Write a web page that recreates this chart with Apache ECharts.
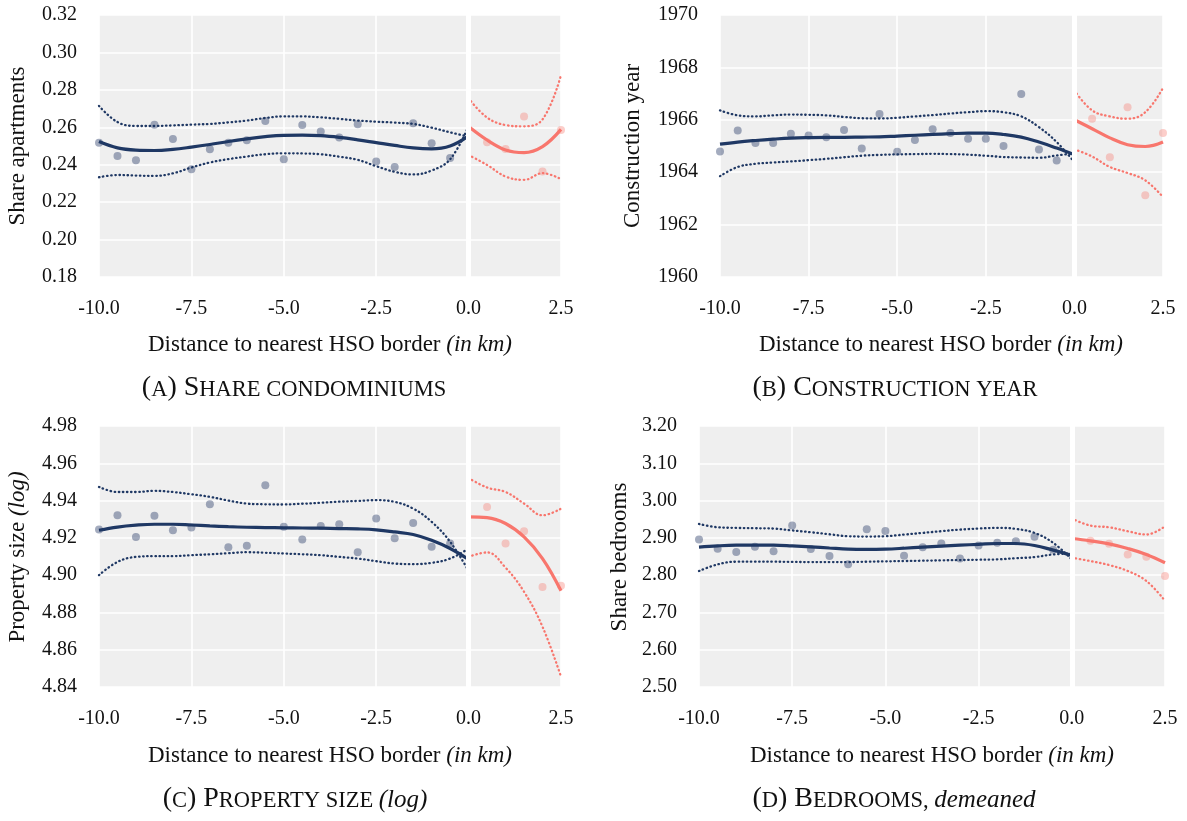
<!DOCTYPE html>
<html>
<head>
<meta charset="utf-8">
<script src="https://cdn.jsdelivr.net/npm/echarts@6/dist/echarts.min.js"></script>
<style>
html,body{margin:0;padding:0;background:#fff;}
#c{width:1187px;height:821px;}
</style>
</head>
<body>
<div id="c"></div>
<script>
// ---------- DATA ----------
const xPtsL = [-10,-9.5,-9,-8.5,-8,-7.5,-7,-6.5,-6,-5.5,-5,-4.5,-4,-3.5,-3,-2.5,-2,-1.5,-1,-0.5];
const xPtsR = [0.5,1,1.5,2,2.5];
const xFitL = [-10,-9.5,-9,-8.5,-8,-7.5,-7,-6.5,-6,-5.5,-5,-4.5,-4,-3.5,-3,-2.5,-2,-1.5,-1,-0.5,0];
const xFitR = [0,0.5,1,1.5,2,2.5];
const xTicks = [-10,-7.5,-5,-2.5,0,2.5];

// Panel A: share condominiums
const aPtsL = [0.2518,0.2447,0.2424,0.2614,0.2538,0.2376,0.2483,0.2518,0.2531,0.2634,0.2429,0.2612,0.2577,0.2545,0.2616,0.2417,0.2388,0.2621,0.2515,0.2436];
const aPtsR = [0.2520,0.2484,0.2657,0.2364,0.2586];
const aFitL = [0.2524,0.2490,0.2478,0.2476,0.2482,0.2494,0.2508,0.2524,0.2538,0.2550,0.2557,0.2558,0.2555,0.2546,0.2533,0.2518,0.2503,0.2490,0.2485,0.2500,0.2554];
const aUpL  = [0.2714,0.2628,0.2607,0.2607,0.2610,0.2614,0.2618,0.2626,0.2636,0.2650,0.2658,0.2658,0.2653,0.2645,0.2636,0.2630,0.2625,0.2618,0.2598,0.2573,0.2550];
const aLoL  = [0.2333,0.2345,0.2342,0.2340,0.2354,0.2385,0.2412,0.2430,0.2444,0.2456,0.2461,0.2460,0.2456,0.2443,0.2426,0.2392,0.2362,0.2348,0.2369,0.2429,0.2607];
const aFitR = [0.2604,0.2532,0.2479,0.2465,0.2497,0.2589];
const aUpR  = [0.2755,0.2652,0.2612,0.2605,0.2642,0.2879];
const aLoR  = [0.2452,0.2399,0.2337,0.2319,0.2355,0.2323];

// Panel B: construction year
const bPtsL = [1964.79,1965.59,1965.11,1965.11,1965.47,1965.40,1965.33,1965.61,1964.90,1966.22,1964.78,1965.23,1965.64,1965.50,1965.28,1965.28,1965.00,1966.98,1964.87,1964.45];
const bPtsR = [1966.04,1964.57,1966.48,1963.12,1965.50];
const bFitL = [1965.07,1965.15,1965.21,1965.26,1965.30,1965.32,1965.33,1965.33,1965.34,1965.35,1965.38,1965.41,1965.44,1965.47,1965.49,1965.49,1965.44,1965.34,1965.15,1964.92,1964.67];
const bUpL  = [1966.36,1966.17,1966.13,1966.17,1966.20,1966.19,1966.17,1966.11,1966.06,1966.05,1966.08,1966.13,1966.18,1966.24,1966.29,1966.33,1966.29,1966.13,1965.72,1965.15,1964.38];
const bLoL  = [1963.85,1964.20,1964.32,1964.37,1964.41,1964.46,1964.51,1964.57,1964.63,1964.66,1964.68,1964.69,1964.70,1964.69,1964.67,1964.63,1964.58,1964.56,1964.55,1964.64,1964.72];
const bFitR = [1966.00,1965.66,1965.31,1965.05,1964.98,1965.15];
const bUpR  = [1967.12,1966.36,1966.13,1966.04,1966.29,1967.22];
const bLoR  = [1964.87,1964.60,1964.20,1963.97,1963.69,1963.05];

// Panel C: property size (log)
const cPtsL = [4.9245,4.9321,4.9205,4.9318,4.9241,4.9255,4.9380,4.9150,4.9157,4.9482,4.9259,4.9191,4.9263,4.9273,4.9123,4.9304,4.9198,4.9280,4.9152,4.9170];
const cPtsR = [4.9366,4.9170,4.9236,4.8937,4.8943];
const cFitL = [4.9241,4.9258,4.9268,4.9273,4.9273,4.9269,4.9264,4.9260,4.9257,4.9255,4.9254,4.9253,4.9252,4.9250,4.9248,4.9243,4.9232,4.9218,4.9187,4.9143,4.9084];
const cUpL  = [4.9473,4.9446,4.9446,4.9452,4.9446,4.9434,4.9420,4.9400,4.9384,4.9380,4.9379,4.9383,4.9388,4.9394,4.9398,4.9402,4.9393,4.9357,4.9286,4.9179,4.9023];
const cLoL  = [4.9000,4.9071,4.9098,4.9102,4.9102,4.9107,4.9112,4.9118,4.9123,4.9120,4.9116,4.9112,4.9107,4.9098,4.9089,4.9075,4.9062,4.9059,4.9066,4.9089,4.9143];
const cFitR = [4.9313,4.9309,4.9277,4.9205,4.9089,4.8916];
const cUpR  = [4.9521,4.9470,4.9446,4.9384,4.9321,4.9357];
const cLoR  = [4.9098,4.9122,4.9040,4.8911,4.8723,4.8455];

// Panel D: bedrooms, demeaned
const dPtsL = [2.8956,2.8707,2.8618,2.8760,2.8644,2.9329,2.8698,2.8511,2.8289,2.9231,2.9187,2.8520,2.8751,2.8849,2.8449,2.8796,2.8867,2.8911,2.9027,2.8680];
const dPtsR = [2.8920,2.8840,2.8556,2.8493,2.7978];
const dFitL = [2.8751,2.8785,2.8804,2.8806,2.8804,2.8785,2.8760,2.8728,2.8698,2.8690,2.8698,2.8722,2.8751,2.8780,2.8804,2.8827,2.8849,2.8849,2.8796,2.8671,2.8529];
const dUpL  = [2.9373,2.9284,2.9267,2.9258,2.9249,2.9200,2.9151,2.9097,2.9044,2.9035,2.9044,2.9088,2.9133,2.9180,2.9222,2.9250,2.9267,2.9240,2.9133,2.8867,2.8420];
const dLoL  = [2.8111,2.8289,2.8360,2.8360,2.8360,2.8355,2.8351,2.8351,2.8351,2.8360,2.8369,2.8378,2.8387,2.8396,2.8404,2.8413,2.8422,2.8453,2.8484,2.8556,2.8580];
const dFitR = [2.8982,2.8920,2.8840,2.8716,2.8556,2.8333];
const dUpR  = [2.9516,2.9329,2.9284,2.9178,2.9089,2.9311];
const dLoR  = [2.8467,2.8378,2.8271,2.8111,2.7844,2.7311];

const yRanges = [
  {min:0.18, max:0.32, interval:0.02, dec:2},
  {min:1960, max:1970, interval:2, dec:0},
  {min:4.84, max:4.98, interval:0.02, dec:2},
  {min:2.5, max:3.2, interval:0.1, dec:2}
];

// ---------- LAYOUT ----------
const W = 1187, H = 821;
const grids = [
  {left:99, top:15, right:W-561, bottom:H-277},
  {left:720, top:15, right:W-1163, bottom:H-277},
  {left:99, top:426, right:W-561, bottom:H-687},
  {left:699, top:426, right:W-1165, bottom:H-687}
];
const FONT = 'Liberation Serif';
const NAVY = '#1f3864';
const RED = '#f8766d';

const panels = [
  [aPtsL,aPtsR,aFitL,aUpL,aLoL,aFitR,aUpR,aLoR],
  [bPtsL,bPtsR,bFitL,bUpL,bLoL,bFitR,bUpR,bLoR],
  [cPtsL,cPtsR,cFitL,cUpL,cLoL,cFitR,cUpR,cLoR],
  [dPtsL,dPtsR,dFitL,dUpL,dLoL,dFitR,dUpR,dLoR]
];

const pair = (xs, ys) => xs.map((x,k)=>[x, ys[k]]);
const series = [];
panels.forEach((p, i) => {
  const [ptsL, ptsR, fitL, upL, loL, fitR, upR, loR] = p;
  const base = {xAxisIndex:i, yAxisIndex:i, silent:true, animation:false};
  series.push(Object.assign({type:'scatter', data:pair(xPtsL, ptsL), symbolSize:8,
    itemStyle:{color:'rgba(35,55,100,0.52)'}, z:2}, base));
  series.push(Object.assign({type:'scatter', data:pair(xPtsR, ptsR), symbolSize:8,
    itemStyle:{color:'rgba(248,118,109,0.45)'}, z:2}, base));
  const dotted = (xs, ys, color) => Object.assign({type:'line', data:pair(xs, ys), smooth:0.4,
    showSymbol:false, lineStyle:{color:color, width:2.3, type:[0.5,3.6], cap:'round'}, z:3}, base);
  const solid = (xs, ys, color) => Object.assign({type:'line', data:pair(xs, ys), smooth:0.4,
    showSymbol:false, lineStyle:{color:color, width:3.2}, z:4}, base);
  series.push(dotted(xFitL, upL, NAVY));
  series.push(dotted(xFitL, loL, NAVY));
  series.push(solid(xFitL, fitL, NAVY));
  series.push(dotted(xFitR, upR, RED));
  series.push(dotted(xFitR, loR, RED));
  series.push(solid(xFitR, fitR, RED));
  series.push(Object.assign({type:'line', data:[], z:10,
    markLine:{silent:true, symbol:'none', animation:false, label:{show:false},
      lineStyle:{color:'#ffffff', width:5, type:'solid'}, data:[{xAxis:0}]}}, base));
});

const xAxes = grids.map((g,i) => ({
  type:'value', gridIndex:i, min:-10, max:2.5, interval:2.5,
  axisLine:{show:false}, axisTick:{show:false},
  splitLine:{show:true, lineStyle:{color:'#ffffff', width:1.6}},
  axisLabel:{fontFamily:FONT, fontSize:20, color:'#111', margin:22,
    formatter:v => v.toFixed(1), showMinLabel:true, showMaxLabel:true}
}));
const yAxes = grids.map((g,i) => ({
  type:'value', gridIndex:i, min:yRanges[i].min, max:yRanges[i].max, interval:yRanges[i].interval,
  axisLine:{show:false}, axisTick:{show:false},
  splitLine:{show:true, lineStyle:{color:'#ffffff', width:1.6}},
  axisLabel:{fontFamily:FONT, fontSize:20, color:'#111', margin:22,
    formatter:v => v.toFixed(yRanges[i].dec)}
}));

// ---------- TEXTS ----------
const xTitle = '{n|Distance to nearest HSO border }{i|(in km)}';
const titleRich = {
  n:{fontFamily:FONT, fontSize:23, fill:'#111', color:'#111'},
  i:{fontFamily:FONT, fontSize:23, fontStyle:'italic', fill:'#111', color:'#111'}
};
const capRich = {
  b:{fontFamily:FONT, fontSize:28, fill:'#111', color:'#111', verticalAlign:'bottom', lineHeight:30},
  s:{fontFamily:FONT, fontSize:22.5, fill:'#111', color:'#111', verticalAlign:'bottom', lineHeight:30},
  i:{fontFamily:FONT, fontSize:25, fontStyle:'italic', fill:'#111', color:'#111', verticalAlign:'bottom', lineHeight:30}
};
function txt(x, y, text, rich, rot) {
  return {type:'text', x:x, y:y, rotation:rot||0, silent:true,
    style:{text:text, rich:rich, textAlign:'center', textVerticalAlign:'middle', fill:'#111'}};
}
const graphics = [
  txt(330, 345, xTitle, titleRich),
  txt(941, 345, xTitle, titleRich),
  txt(330, 756, xTitle, titleRich),
  txt(932, 756, xTitle, titleRich),
  txt(18, 146, '{n|Share apartments}', titleRich, Math.PI/2),
  txt(633, 146, '{n|Construction year}', titleRich, Math.PI/2),
  txt(18, 557, '{n|Property size }{i|(log)}', titleRich, Math.PI/2),
  txt(620, 557, '{n|Share bedrooms}', titleRich, Math.PI/2),
  txt(294, 387, '{b|(}{s|A}{b|) S}{s|HARE CONDOMINIUMS}', capRich),
  txt(895, 387, '{b|(}{s|B}{b|) C}{s|ONSTRUCTION YEAR}', capRich),
  txt(295, 798, '{b|(}{s|C}{b|) P}{s|ROPERTY SIZE }{i|(log)}', capRich),
  txt(894, 798, '{b|(}{s|D}{b|) B}{s|EDROOMS, }{i|demeaned}', capRich)
];

const chart = echarts.init(document.getElementById('c'), null, {renderer:'canvas'});
chart.setOption({
  backgroundColor:'#ffffff',
  animation:false,
  grid: grids.map(g => Object.assign({show:true, backgroundColor:'#efefef', borderWidth:0, containLabel:false}, g)),
  xAxis: xAxes,
  yAxis: yAxes,
  series: series,
  graphic: graphics
});
</script>
</body>
</html>
